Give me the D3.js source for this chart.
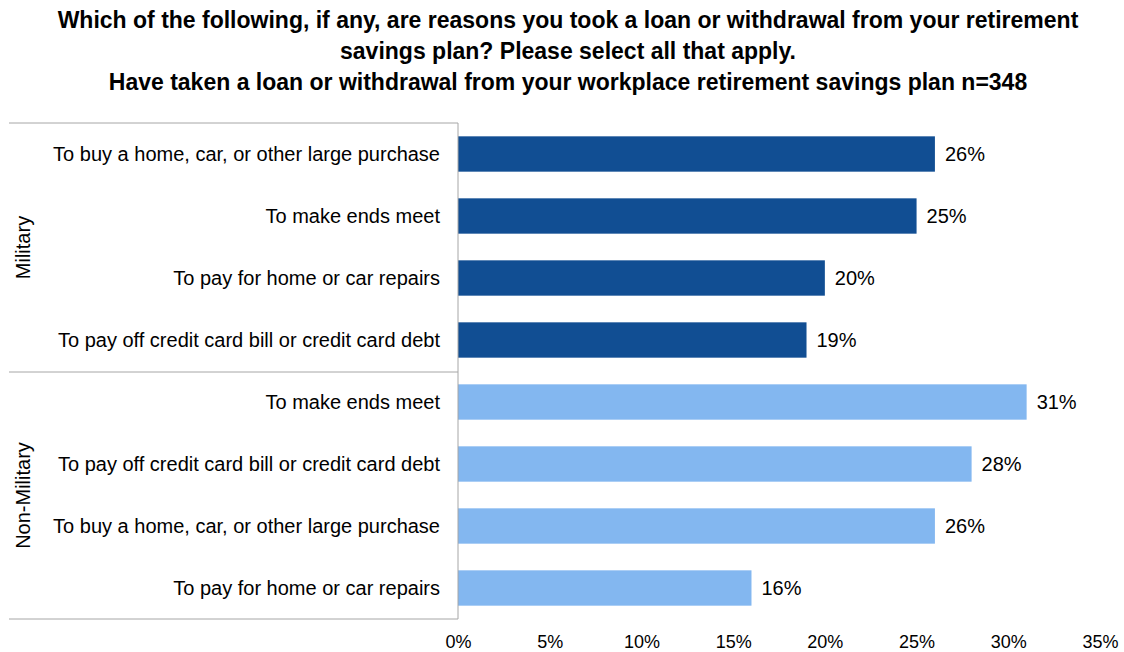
<!DOCTYPE html>
<html><head><meta charset="utf-8">
<script src="https://cdn.jsdelivr.net/npm/d3@7"></script>
<style>body{margin:0;background:#fff;}text{font-family:Arial,"Liberation Sans",sans-serif;}</style>
</head><body><svg id="c" width="1124" height="652"></svg>
<script>
const titleLines = [
  "Which of the following, if any, are reasons you took a loan or withdrawal from your retirement",
  "savings plan? Please select all that apply.",
  "Have taken a loan or withdrawal from your workplace retirement savings plan n=348"
];
const groups = ["Military", "Non-Military"];
const militaryCats = ["To buy a home, car, or other large purchase","To make ends meet","To pay for home or car repairs","To pay off credit card bill or credit card debt"];
const militaryVals = [26, 25, 20, 19];
const nonMilitaryCats = ["To make ends meet","To pay off credit card bill or credit card debt","To buy a home, car, or other large purchase","To pay for home or car repairs"];
const nonMilitaryVals = [31, 28, 26, 16];
const tickVals = [0,5,10,15,20,25,30,35];
const colors = {"Military":"#114E93","Non-Military":"#83B7F0"};

const rows = [];
militaryCats.forEach((c,i)=>rows.push({g:"Military",cat:c,v:militaryVals[i],id:"m"+i}));
nonMilitaryCats.forEach((c,i)=>rows.push({g:"Non-Military",cat:c,v:nonMilitaryVals[i],id:"n"+i}));

const svg = d3.select("#c");
const x = d3.scaleLinear().domain([0,35]).range([458,1100]);
const y = d3.scaleBand().domain(rows.map(r=>r.id)).range([123,619]).paddingInner(0.43).paddingOuter(0.215);

svg.append("g").selectAll("text").data(titleLines).join("text")
  .attr("x",568).attr("y",(d,i)=>28+i*31).attr("text-anchor","middle")
  .attr("font-size",23).attr("font-weight","bold").attr("fill","#000").text(d=>d);

svg.append("g").selectAll("rect").data(rows).join("rect")
  .attr("x",x(0)).attr("y",d=>y(d.id)).attr("width",d=>x(d.v)-x(0)).attr("height",y.bandwidth())
  .attr("fill",d=>colors[d.g]);

svg.append("g").selectAll("text").data(rows).join("text")
  .attr("x",d=>x(d.v)+10).attr("y",d=>y(d.id)+y.bandwidth()/2).attr("dy","0.35em")
  .attr("font-size",20).attr("fill","#000").text(d=>d.v+"%");

svg.append("g").selectAll("text").data(rows).join("text")
  .attr("x",440).attr("y",d=>y(d.id)+y.bandwidth()/2).attr("dy","0.35em").attr("text-anchor","end")
  .attr("font-size",20).attr("fill","#000").text(d=>d.cat);

// group boxes
const lineColor = "#A6A6A6";
const g = svg.append("g");
[123,372,619].forEach(yy=>g.append("line").attr("x1",9).attr("x2",458).attr("y1",yy).attr("y2",yy).attr("stroke",lineColor).attr("stroke-width",1));
g.append("line").attr("x1",458).attr("x2",458).attr("y1",123).attr("y2",619).attr("stroke",lineColor);

const groupMid = [ (123+372)/2, (372+619)/2 ];
svg.append("g").selectAll("text").data(groups).join("text")
  .attr("transform",(d,i)=>`translate(23,${groupMid[i]}) rotate(-90)`)
  .attr("text-anchor","middle").attr("dy","0.35em").attr("font-size",20).attr("fill","#000").text(d=>d);

const ax = svg.append("g").attr("transform","translate(0,619)")
  .call(d3.axisBottom(x).tickValues(tickVals).tickFormat(d=>d+"%").tickSize(0).tickPadding(16));
ax.select(".domain").remove();
ax.selectAll("text").attr("font-size",18).attr("fill","#000").attr("font-family","Arial,'Liberation Sans',sans-serif");
</script></body></html>
